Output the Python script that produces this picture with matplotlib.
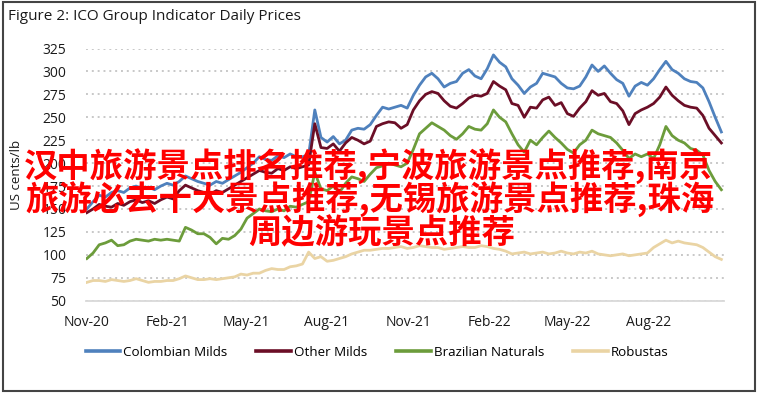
import matplotlib
matplotlib.use('Agg')
import matplotlib.pyplot as plt
import matplotlib.dates as mdates
from matplotlib.patches import Rectangle
import pandas as pd

# ---------------- data (weekly readings, US cents/lb) ----------------
dates = pd.date_range('2020-11-01', periods=104, freq='7D')

colombian_milds = [
    150, 158, 165, 163, 168, 170, 168, 173, 175, 172, 174, 171, 175, 178, 176, 180, 186, 183, 180, 178,
    176, 180, 178, 182, 186, 190, 195, 200, 207, 204, 203, 208, 206, 210, 207,
    207, 209, 258, 228, 223, 229, 221, 225, 236, 238, 237, 242, 252, 261, 259, 261, 263, 260, 274, 285,
    294, 298, 292, 283, 287, 289, 298, 302, 295, 292, 303, 318, 310, 305, 292,
    285, 276, 283, 287, 298, 296, 294, 287, 282, 281, 284, 294, 307, 300, 306, 298, 291, 287, 273, 284,
    288, 285, 292, 302, 311, 302, 298, 292, 289, 288, 282, 267, 250, 234]

other_milds = [
    146, 150, 155, 153, 152, 156, 154, 158, 160, 157, 159, 156, 160, 163, 161, 170, 176, 173, 170, 168,
    166, 170, 168, 172, 176, 180, 184, 188, 192, 190, 189, 194, 192, 196, 194,
    196, 198, 243, 217, 216, 221, 213, 222, 228, 225, 221, 224, 240, 243, 245, 244, 238, 242, 258, 268,
    275, 278, 276, 268, 262, 260, 265, 271, 274, 273, 276, 289, 284, 280, 265,
    263, 250, 261, 260, 269, 272, 263, 266, 254, 251, 260, 267, 279, 274, 276, 267, 265, 257, 242, 254,
    258, 261, 265, 272, 283, 274, 268, 263, 261, 260, 252, 238, 230, 222]

brazilian_naturals = [
    96, 102, 111, 113, 116, 110, 111, 115, 117, 116, 115, 117, 116, 117, 116, 115, 130, 127, 123, 123,
    119, 112, 118, 117, 121, 128, 140, 145, 150, 148, 147, 150, 148, 153, 152,
    155, 158, 190, 172, 170, 175, 168, 178, 185, 183, 180, 188, 195, 197, 200, 198, 196, 200, 215, 232,
    238, 244, 240, 236, 230, 226, 232, 240, 237, 236, 243, 258, 250, 245, 232,
    220, 212, 225, 220, 228, 235, 228, 222, 215, 211, 220, 225, 236, 232, 230, 228, 222, 214, 205, 210,
    207, 210, 205, 220, 240, 230, 225, 222, 216, 214, 209, 192, 180, 171]

robustas = [
    70, 72, 72, 71, 73, 72, 71, 72, 74, 72, 70, 71, 71, 72, 72, 74, 77, 75, 73, 73,
    74, 73, 74, 75, 76, 79, 78, 80, 80, 83, 85, 84, 84, 87, 88,
    90, 103, 96, 98, 93, 94, 96, 98, 101, 103, 105, 105, 106, 107, 107, 108, 109, 107, 108, 110,
    109, 108, 108, 106, 107, 108, 109, 108, 108, 110, 109, 107, 106, 104, 101,
    102, 103, 101, 102, 103, 101, 102, 104, 102, 101, 103, 102, 104, 101, 100, 99, 100, 101, 99, 100,
    101, 102, 108, 112, 116, 113, 115, 113, 112, 111, 108, 103, 98, 95]

series_names = ['Colombian Milds', 'Other Milds', 'Brazilian Naturals', 'Robustas']
series_values = [colombian_milds, other_milds, brazilian_naturals, robustas]
series_colors = ['#4F81BD', '#6B0E26', '#6C9C3B', '#EAD4A4']

title = 'Figure 2: ICO Group Indicator Daily Prices'
ylabel = 'US cents/lb'
yticks = [50, 75, 100, 125, 150, 175, 200, 225, 250, 275, 300, 325]
overlay_lines = ['汉中旅游景点排名推荐,宁波旅游景点推荐,南京',
                 '旅游必去十大景点推荐,无锡旅游景点推荐,珠海',
                 '周边游玩景点推荐']

# ---------------- figure ----------------
W, H = 759, 393
fig = plt.figure(figsize=(W / 100, H / 100), dpi=100)
fig.patch.set_facecolor('white')

txt_font = ['Open Sans', 'DejaVu Sans']

ax = fig.add_axes([86 / W, 1 - 300.7 / H, (724 - 86) / W, (300.7 - 48.5) / H])
for name, vals, col in zip(series_names, series_values, series_colors):
    ax.plot(dates, vals, color=col, lw=2.0, label=name, solid_joinstyle='round')

ax.set_ylim(50, 325)
ax.set_xlim(pd.Timestamp('2020-10-31'), pd.Timestamp('2022-10-26'))
ax.set_yticks(yticks)
ax.xaxis.set_major_locator(mdates.MonthLocator(bymonth=[2, 5, 8, 11]))
ax.xaxis.set_major_formatter(mdates.DateFormatter('%b-%y'))
ax.tick_params(axis='both', length=0, labelsize=10, colors='#1a1a1a')
ax.tick_params(axis='y', pad=14)
ax.tick_params(axis='x', pad=10)
for lab in ax.get_xticklabels() + ax.get_yticklabels():
    lab.set_family(txt_font)

ax.yaxis.grid(True, linestyle=(0, (1, 2)), color='#C8C8C8', lw=1.4)
ax.set_axisbelow(True)
for s in ['top', 'right', 'left']:
    ax.spines[s].set_visible(False)
ax.spines['bottom'].set_color('#D9D9D9')
ax.spines['bottom'].set_linewidth(1.3)

fig.text(17 / W, 1 - 175 / H, ylabel, rotation=90, ha='center', va='center',
         fontsize=9.5, color='#1a1a1a', family=txt_font)

fig.text(8 / W, 1 - 16 / H, title, ha='left', va='center', fontsize=11,
         color='#1a1a1a', family=txt_font)

handles, labels = ax.get_legend_handles_labels()
leg = fig.legend(handles, labels, loc='center', bbox_to_anchor=(377 / W, 1 - 352 / H),
                 ncol=4, frameon=False, handlelength=2.6, handletextpad=0.2,
                 columnspacing=2.2, prop={'family': txt_font, 'size': 9.6})
for line in leg.get_lines():
    line.set_linewidth(2.6)

fig.patches.append(Rectangle((3 / W, 2 / H), 752 / W, 389 / H, transform=fig.transFigure,
                             fill=False, edgecolor='#444444', lw=1.5, zorder=10))

centers = [(368, 166), (370, 200), (382, 234)]
for line, (cx, cy) in zip(overlay_lines, centers):
    fig.text(cx / W, 1 - cy / H, line, ha='center', va='center', fontsize=24,
             color='#FF0000', weight='bold', family=['Noto Sans CJK SC', 'DejaVu Sans'],
             zorder=20)

fig.savefig('out.png', dpi=100)
